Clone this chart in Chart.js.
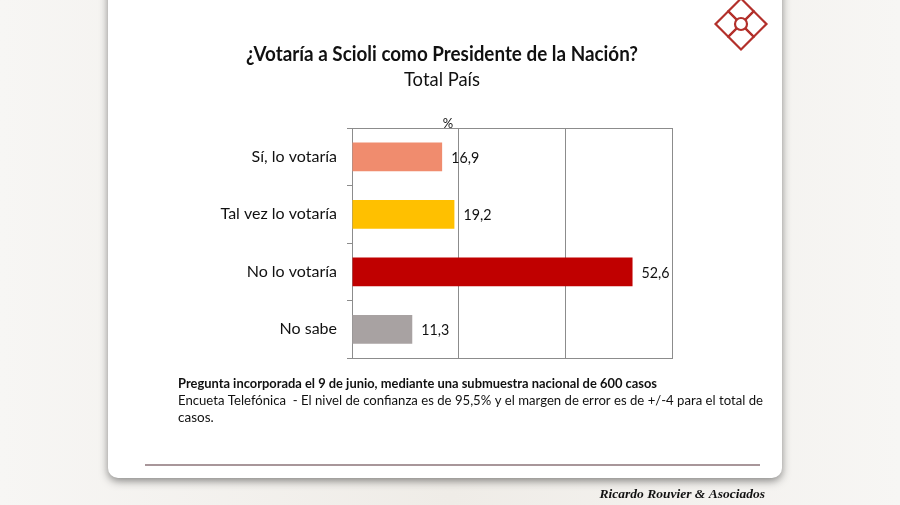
<!DOCTYPE html>
<html>
<head>
<meta charset="utf-8">
<script src="https://cdn.jsdelivr.net/npm/chart.js@4.4.1/dist/chart.umd.min.js"></script>
<style>
  html, body { margin: 0; padding: 0; background: #f3f1ee; }
  #wrap { width: 900px; height: 505px; position: relative; }
</style>
</head>
<body>
<div id="wrap"><canvas id="myChart" width="900" height="505"></canvas></div>
<script>
const categories = ["Sí, lo votaría", "Tal vez lo votaría", "No lo votaría", "No sabe"];
const values = [16.9, 19.2, 52.6, 11.3];
const barColors = ["#F08C6E", "#FFC000", "#C00000", "#A8A2A2"];
const xTicks = [0, 20, 40, 60];

const titleText = "¿Votaría a Scioli como Presidente de la Nación?";
const subtitleText = "Total País";
const noteLines = [
  "Pregunta incorporada el 9 de junio, mediante una submuestra nacional de 600 casos",
  "Encueta Telefónica  - El nivel de confianza es de 95,5% y el margen de error es de +/-4 para el total de",
  "casos."
];
const footerText = "Ricardo Rouvier & Asociados";

const FONT = "Lato, 'Open Sans', sans-serif";

// draw text squeezed horizontally to a target width
function fitText(ctx, text, x, y, width, align) {
  const w = ctx.measureText(text).width;
  const s = Math.min(1, width / w);
  ctx.save();
  ctx.textAlign = "left";
  let left = x;
  if (align === "center") left = x - (w * s) / 2;
  if (align === "right") left = x - w * s;
  ctx.translate(left, y);
  ctx.scale(s, 1);
  ctx.fillText(text, 0, 0);
  ctx.restore();
}

const pagePlugin = {
  id: "page",
  beforeDraw(chart) {
    const ctx = chart.ctx;
    ctx.save();
    // page background
    const g = ctx.createLinearGradient(0, 0, 900, 0);
    g.addColorStop(0, "#f7f6f4");
    g.addColorStop(0.5, "#efece7");
    g.addColorStop(1, "#f7f6f4");
    ctx.fillStyle = g;
    ctx.fillRect(0, 0, 900, 505);
    // card
    ctx.shadowColor = "rgba(0,0,0,0.45)";
    ctx.shadowBlur = 8;
    ctx.shadowOffsetY = 3;
    ctx.fillStyle = "#ffffff";
    ctx.beginPath();
    ctx.roundRect(108, -20, 674, 498, 10);
    ctx.fill();
    ctx.restore();

    // logo
    ctx.save();
    ctx.translate(741, 24);
    ctx.rotate(Math.PI / 4);
    ctx.strokeStyle = "#b3302b";
    ctx.lineWidth = 2.2;
    const s = 18;
    ctx.strokeRect(-s, -s, s, s);
    ctx.strokeRect(0, -s, s, s);
    ctx.strokeRect(-s, 0, s, s);
    ctx.strokeRect(0, 0, s, s);
    ctx.fillStyle = "#ffffff";
    ctx.beginPath();
    ctx.arc(0, 0, 6, 0, Math.PI * 2);
    ctx.fill();
    ctx.stroke();
    ctx.restore();

    // titles
    ctx.save();
    ctx.fillStyle = "#111111";
    ctx.textBaseline = "alphabetic";
    ctx.font = "bold 20px " + FONT;
    fitText(ctx, titleText, 442, 61, 392, "center");
    ctx.font = "19px " + FONT;
    fitText(ctx, subtitleText, 442, 86, 76, "center");
    ctx.font = "13px " + FONT;
    fitText(ctx, "%", 448, 128, 12, "center");

    // notes
    ctx.font = "bold 13.5px " + FONT;
    fitText(ctx, noteLines[0], 178, 388, 479, "left");
    ctx.font = "13.5px " + FONT;
    fitText(ctx, noteLines[1], 178, 405, 585, "left");
    fitText(ctx, noteLines[2], 178, 422, 37, "left");

    // separator line
    ctx.strokeStyle = "#a8969a";
    ctx.lineWidth = 2;
    ctx.beginPath();
    ctx.moveTo(145, 465);
    ctx.lineTo(760, 465);
    ctx.stroke();

    // footer
    ctx.font = "italic bold 13.5px 'Liberation Serif', 'DejaVu Serif', serif";
    fitText(ctx, footerText, 765, 498, 168, "right");
    ctx.restore();
  },
  afterDatasetsDraw(chart) {
    const ctx = chart.ctx;
    const a = chart.chartArea;
    ctx.save();
    // top border of the plot box
    ctx.strokeStyle = "#8c8c8c";
    ctx.lineWidth = 1;
    ctx.beginPath();
    ctx.moveTo(a.left, a.top + 0.5);
    ctx.lineTo(a.right, a.top + 0.5);
    ctx.stroke();
    // value labels
    ctx.fillStyle = "#111111";
    ctx.font = "15px " + FONT;
    ctx.textBaseline = "middle";
    chart.getDatasetMeta(0).data.forEach((bar, i) => {
      fitText(ctx, values[i].toFixed(1).replace(".", ","), bar.x + 9, bar.y + 1, 28, "left");
    });
    ctx.restore();
  }
};

new Chart(document.getElementById("myChart").getContext("2d"), {
  type: "bar",
  data: {
    labels: categories,
    datasets: [{
      data: values,
      backgroundColor: barColors,
      borderWidth: 0,
      barPercentage: 0.5,
      categoryPercentage: 1
    }]
  },
  options: {
    indexAxis: "y",
    responsive: false,
    animation: false,
    layout: { padding: { left: 0, right: 228, top: 128, bottom: 147 } },
    plugins: {
      legend: { display: false },
      tooltip: { enabled: false },
      title: { display: false }
    },
    scales: {
      x: {
        min: 0,
        max: 60,
        afterBuildTicks: (scale) => { scale.ticks = xTicks.map(v => ({ value: v })); },
        ticks: { display: false },
        grid: { color: "#8c8c8c", drawTicks: false, lineWidth: 1 },
        border: { color: "#8c8c8c" },
        afterFit: (scale) => { scale.height = 0; }
      },
      y: {
        grid: { drawOnChartArea: false, drawTicks: true, tickLength: 5, offset: true, color: "#8c8c8c" },
        border: { color: "#8c8c8c" },
        ticks: { color: "#111111", font: { family: FONT, size: 16 }, padding: 10 },
        afterFit: (scale) => { scale.width = 352; }
      }
    }
  },
  plugins: [pagePlugin]
});
</script>
</body>
</html>
